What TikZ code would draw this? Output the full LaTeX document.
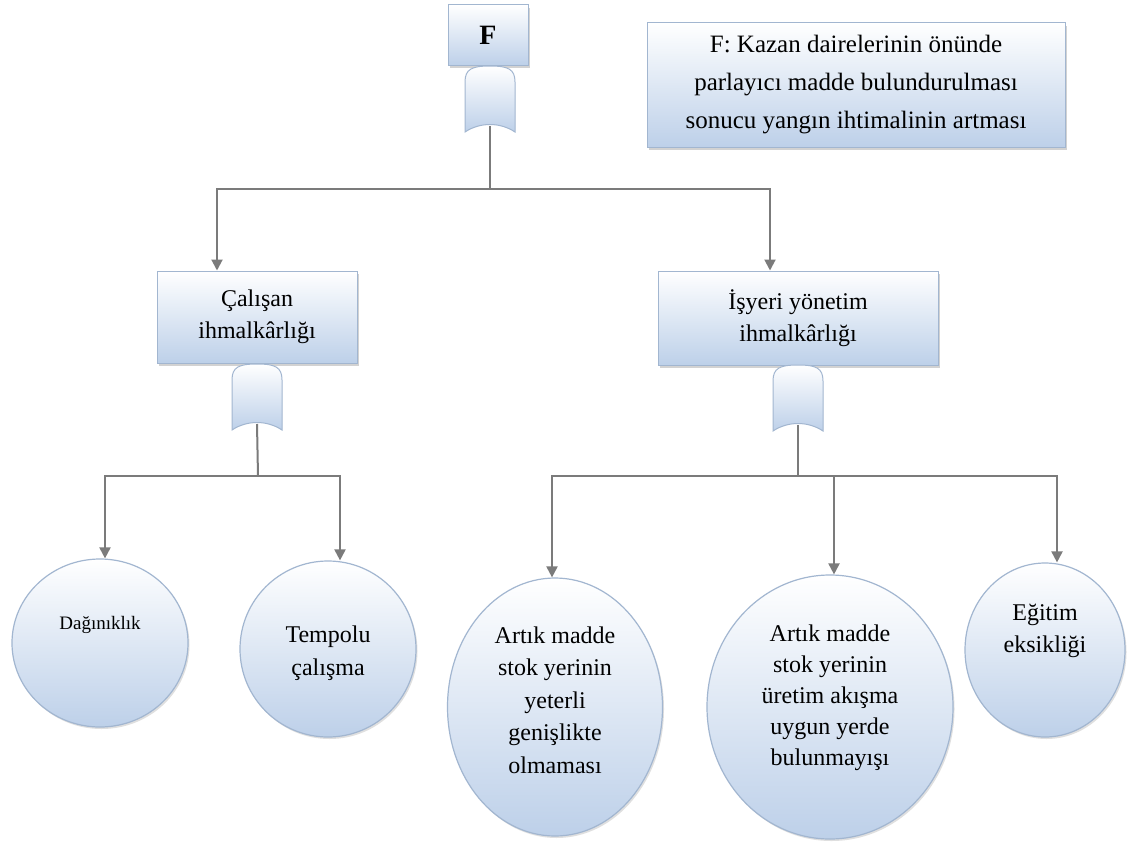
\documentclass[tikz,border=0pt]{standalone}
\usepackage{fontspec}
\setmainfont{Liberation Serif}[Ligatures=TeX]
\usetikzlibrary{arrows.meta,shadows,shapes.geometric}
\definecolor{boxbot}{HTML}{BDD0E9}
\definecolor{boxline}{HTML}{A2B6D0}
\definecolor{linkgray}{HTML}{7B7B7B}
\tikzset{
  % fault-tree OR gate, drawn around its centre
  pics/orgate/.style={code={
    \path[gateshape] (-25,33) -- (-25,-17)
      .. controls (-25,-30) and (-18,-33) .. (0,-33)
      .. controls (18,-33) and (25,-30) .. (25,-17)
      -- (25,33) .. controls (10,23) and (-10,23) .. (-25,33) -- cycle;
    \coordinate (-out) at (0,27);
  }},
  gateshape/.style={draw=boxline, line width=1pt, top color=white, bottom color=boxbot},
  eventbox/.style={rectangle, draw=boxline, line width=1pt, top color=white,
    bottom color=boxbot, inner sep=2pt, align=center,
    drop shadow={shadow xshift=2pt, shadow yshift=-3pt, opacity=0.35}},
  basicevent/.style={ellipse, draw=boxline, line width=1.2pt, top color=white,
    bottom color=boxbot, inner sep=0pt,
    drop shadow={shadow xshift=1.5pt, shadow yshift=-2pt, opacity=0.25}},
  txt/.style={align=center, font=\rmfamily\fontsize{24}{32}\selectfont},
  link/.style={draw=linkgray, line width=2pt},
  arrowlink/.style={link, -{Triangle[length=11pt,width=11pt]}},
}
\begin{document}
\begin{tikzpicture}[x=1pt,y=-1pt]
\useasboundingbox (0,0) rectangle (1131,843);
\fill[white] (0,0) rectangle (1131,843);

% top event and its description
\node[eventbox, minimum width=80pt, minimum height=60pt,
      font=\rmfamily\bfseries\fontsize{28}{32}\selectfont] (top) at (488,35) {F};
\node[eventbox, minimum width=418pt, minimum height=124pt,
      font=\rmfamily\fontsize{25}{38}\selectfont] (desc) at (856,85)
  {F: Kazan dairelerinin önünde\\parlayıcı madde bulundurulması\\sonucu yangın ihtimalinin artması};
\pic (gF) at (490,99) {orgate};

% intermediate events
\node[eventbox, txt, minimum width=200pt, minimum height=92pt] (cal) at (257,317)
  {Çalışan\\ihmalkârlığı};
\node[eventbox, txt, minimum width=280pt, minimum height=94pt] (isy) at (798,318)
  {İşyeri yönetim\\ihmalkârlığı};
\pic (gL) at (257,397) {orgate};
\pic (gR) at (798,398) {orgate};

% basic events
\node[basicevent, minimum width=176pt, minimum height=168pt,
  label={[yshift=18pt, font=\rmfamily\fontsize{19}{24}\selectfont]center:Dağınıklık}] (dag) at (100,643) {};
\node[basicevent, minimum width=176pt, minimum height=176pt,
  label={[txt, yshift=-4pt, font=\rmfamily\fontsize{24}{33}\selectfont]center:Tempolu\\çalışma}] (tem) at (328,649) {};
\node[basicevent, minimum width=215pt, minimum height=258pt,
  label={[txt, yshift=7pt, font=\rmfamily\fontsize{24}{32.5}\selectfont]center:Artık madde\\stok yerinin\\yeterli\\genişlikte\\olmaması}] (art1) at (555,707) {};
\node[basicevent, minimum width=246pt, minimum height=264pt,
  label={[txt, yshift=9pt, font=\rmfamily\fontsize{24}{31}\selectfont]center:Artık madde\\stok yerinin\\üretim akışma\\uygun yerde\\bulunmayışı}] (art2) at (830,707) {};
\node[basicevent, minimum width=160pt, minimum height=174pt,
  label={[txt, yshift=19pt, font=\rmfamily\fontsize{24}{32}\selectfont]center:Eğitim\\eksikliği}] (egi) at (1045,650) {};

% junctions
\coordinate (jT) at (490,189);
\coordinate (jL) at (258,476);
\coordinate (jR) at (798,476);

% connectors
\draw[link] (gF-out) -- (jT);
\draw[arrowlink] (jT) -| ([xshift=-40pt]cal.north);
\draw[arrowlink] (jT) -| ([xshift=-28pt]isy.north);

\draw[link] (gL-out) -- (jL);
\draw[arrowlink] (jL) -| ([xshift=5pt]dag.north);
\draw[arrowlink] (jL) -| ([xshift=12pt]tem.north);

\draw[link] (gR-out) -- (jR);
\draw[arrowlink] (jR) -| ([xshift=-3pt]art1.north);
\draw[arrowlink] (jR) -| ([xshift=4pt]art2.north);
\draw[arrowlink] (jR) -| ([xshift=12pt]egi.north);
\end{tikzpicture}
\end{document}
